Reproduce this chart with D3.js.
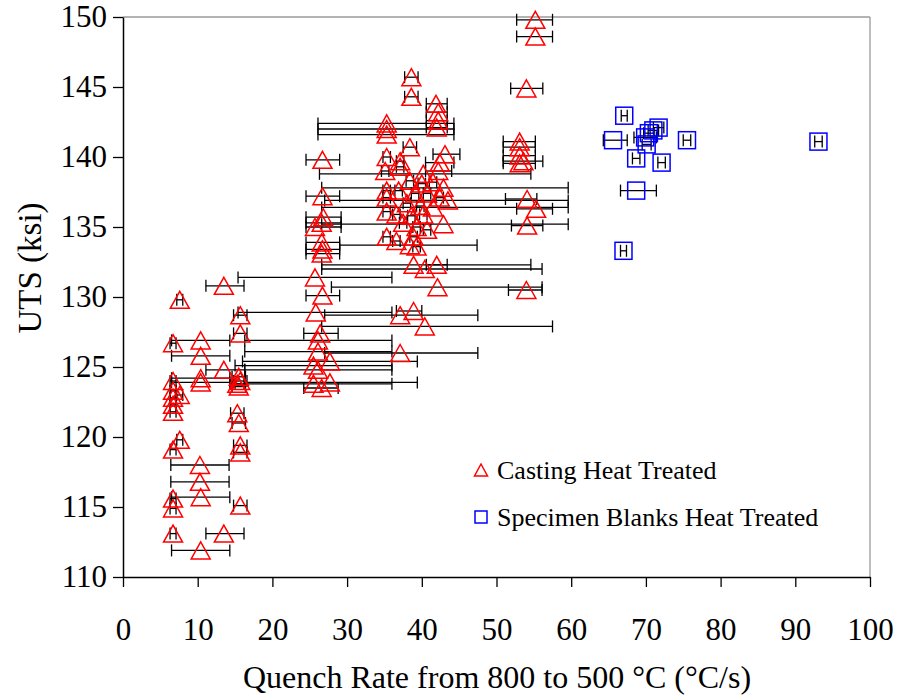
<!DOCTYPE html>
<html lang="en">
	<head>
		<meta charset="UTF-8" />
		<title>UTS vs Quench Rate</title>
		<script src="https://d3js.org/d3.v7.min.js"></script>
		<style>
			body { margin: 0; background: #fff; }
			svg text { font-family: "Liberation Serif", "Times New Roman", serif; }
		</style>
	</head>
	<body></body>

	<script>
		// Casting heat treated: quench rate, UTS, error bar min / max
		var castX = [6.7, 6.7, 6.7, 6.7, 7.6, 6.7, 6.7, 6.7, 7.6, 6.7, 6.7, 6.7, 7.6,
			10.4, 10.4, 10.3, 10.3, 10.4, 10.4, 10.4, 10.4,
			13.5, 13.5, 13.5,
			15.7, 15.7, 15.7, 15.5, 15.3, 15.5, 15.3, 15.7, 15.5, 15.7, 15.7,
			25.5, 26.6, 27.7, 26.1, 25.5, 27.7, 26.1, 26.1, 26.4, 25.8, 26.7, 25.7, 26.6, 26.7, 26.6, 25.7, 26.6, 26.8, 26.7, 26.7,
			35.3, 35.3, 35.3, 35.3, 35.1, 35.3, 35.3, 35.3, 35.3,
			38.6, 38.6, 41.9, 42.2, 42.2, 42.0, 38.4, 43.1, 42.4, 37.1, 37.1, 40.2, 42.2, 38.4, 40.0, 41.5,
			42.9, 36.9, 39.1, 40.7, 42.4, 43.5, 38.0, 39.8, 41.5, 36.6, 38.6, 40.2, 42.9, 37.5, 39.3, 40.7,
			36.6, 38.9, 38.4, 39.3, 38.9, 40.4, 42.0, 42.1, 37.1, 38.9, 40.4, 37.1,
			55.2, 55.2, 54.0, 53.1, 53.1, 53.1, 53.6, 53.1, 54.1, 55.3, 54.1, 54.0];
		var castY = [113.1, 114.9, 115.6, 119.1, 119.8, 121.8, 122.3, 122.8, 123.0, 123.3, 124.0, 126.7, 129.8,
			111.9, 115.7, 116.8, 118.0, 123.9, 124.2, 125.8, 126.9,
			113.1, 124.8, 130.8,
			115.1, 118.9, 119.4, 121.0, 121.7, 123.6, 123.8, 124.0, 124.3, 127.4, 128.7,
			123.8, 123.5, 123.9, 124.8, 125.1, 125.4, 126.1, 126.9, 127.4, 128.9, 130.1, 131.4, 133.1, 133.4, 133.9, 135.0, 135.3, 135.7, 137.2, 139.8,
			142.4, 142.0, 141.6, 140.0, 139.0, 137.6, 137.1, 136.1, 134.3,
			145.7, 144.3, 143.8, 143.2, 142.6, 142.1, 140.7, 140.2, 139.6, 139.7, 139.3, 138.8, 139.0, 138.3, 138.1, 138.2,
			137.8, 137.6, 137.4, 137.4, 137.1, 136.9, 136.7, 136.5, 136.4, 135.9, 135.8, 135.9, 135.2, 135.3, 135.0, 134.8,
			134.0, 134.3, 133.7, 133.6, 132.3, 132.0, 132.3, 130.7, 128.7, 129.0, 127.9, 126.0,
			149.8, 148.6, 144.9, 141.1, 140.7, 140.1, 139.7, 139.55, 137.0, 136.3, 135.1, 130.5];
		var castLo = [6.3, 6.3, 6.3, 6.3, 7.2, 6.3, 6.3, 6.3, 7.2, 6.3, 6.3, 6.3, 7.2,
			6.5, 6.5, 6.4, 6.4, 6.5, 6.5, 6.5, 6.5,
			11.1, 11.1, 11.1,
			14.8, 14.8, 14.8, 14.6, 14.4, 14.6, 14.4, 14.8, 14.6, 14.8, 14.8,
			15.0, 24.2, 16.3, 16.3, 15.0, 16.0, 16.3, 16.3, 24.2, 15.4, 24.5, 15.4, 24.5, 24.5, 24.5, 24.5, 24.5, 24.5, 24.5, 24.5,
			26.1, 26.1, 26.1, 34.8, 34.6, 34.8, 34.8, 34.8, 34.8,
			37.7, 37.7, 40.6, 40.6, 40.6, 40.6, 37.5, 41.5, 40.5, 36.6, 36.6, 26.3, 40.5, 37.9, 39.5, 41.0,
			26.6, 36.4, 38.6, 40.2, 41.9, 27.0, 37.5, 39.3, 26.6, 36.1, 38.1, 39.7, 26.6, 37.0, 38.8, 40.2,
			36.1, 38.4, 29.0, 38.8, 26.6, 26.6, 40.6, 27.9, 27.0, 36.6, 26.6, 27.0,
			52.7, 52.7, 51.9, 50.9, 50.9, 50.9, 50.9, 50.9, 51.2, 52.7, 52.0, 51.6];
		var castHi = [7.1, 7.1, 7.1, 7.1, 8.0, 7.1, 7.1, 7.1, 8.0, 7.1, 7.1, 7.1, 8.0,
			14.3, 14.3, 14.2, 14.2, 14.3, 14.3, 14.3, 14.3,
			16.2, 16.3, 16.2,
			16.6, 16.6, 16.6, 16.4, 16.2, 16.4, 16.2, 16.6, 16.4, 16.6, 16.6,
			36.0, 28.8, 39.4, 36.0, 36.0, 39.4, 36.0, 36.0, 28.8, 36.0, 29.0, 36.0, 29.0, 29.0, 29.0, 29.2, 29.2, 29.2, 29.0, 29.0,
			44.3, 44.3, 44.3, 35.8, 35.6, 35.8, 35.8, 35.8, 35.8,
			39.5, 39.5, 43.4, 43.4, 43.4, 43.4, 39.3, 45.1, 44.3, 37.6, 37.6, 54.6, 44.0, 38.9, 40.5, 42.0,
			59.6, 37.4, 39.6, 41.2, 42.9, 59.6, 38.5, 40.3, 59.6, 37.1, 39.1, 40.7, 59.6, 38.0, 39.8, 41.2,
			37.1, 39.4, 47.4, 39.8, 54.6, 56.1, 43.4, 56.1, 47.5, 40.0, 57.5, 47.5,
			57.5, 57.5, 56.2, 55.2, 55.2, 55.2, 56.2, 55.2, 55.4, 57.5, 56.2, 56.1];

		// Specimen blanks heat treated
		var blankX = [67.1, 65.6, 75.5, 93.1, 71.7, 71.0, 70.4, 69.9, 70.1, 68.7, 72.1, 68.7, 67.0];
		var blankY = [142.95, 141.2, 141.2, 141.1, 142.1, 141.9, 141.7, 141.4, 140.9, 139.9, 139.6, 137.6, 133.3];
		var blankLo = [66.7, 64.3, 75.0, 92.6, 71.0, 70.3, 69.7, 68.4, 69.5, 68.2, 71.6, 66.6, 66.6];
		var blankHi = [67.5, 67.5, 76.0, 93.6, 72.4, 71.7, 71.1, 71.4, 70.7, 69.2, 72.6, 71.4, 67.4];

		var xTicks = [0, 10, 20, 30, 40, 50, 60, 70, 80, 90, 100];
		var yTicks = [110, 115, 120, 125, 130, 135, 140, 145, 150];
		var legendLabels = ["Casting Heat Treated", "Specimen Blanks Heat Treated"];

		var W = 897, H = 696;
		var margin = { top: 17, right: 27, bottom: 119, left: 123 };
		var width = W - margin.left - margin.right,
			height = H - margin.top - margin.bottom;

		var xScale = d3.scaleLinear().domain([0, 100]).range([0, width]);
		var yScale = d3.scaleLinear().domain([110, 150]).range([height, 0]);

		var svg = d3.select("body")
			.append("svg")
			.attr("width", W)
			.attr("height", H)
			.append("g")
			.attr("transform", "translate(" + margin.left + "," + margin.top + ")");

		// grey frame on top and right
		svg.append("line")
			.attr("x1", 0).attr("x2", width).attr("y1", 0).attr("y2", 0)
			.attr("stroke", "#9a9a9a").attr("stroke-width", 1.3);
		svg.append("line")
			.attr("x1", width).attr("x2", width).attr("y1", 0).attr("y2", height)
			.attr("stroke", "#9a9a9a").attr("stroke-width", 1.3);

		var xAxis = d3.axisBottom(xScale).tickValues(xTicks).tickSize(10).tickSizeOuter(0).tickPadding(31);
		var gx = svg.append("g")
			.attr("transform", "translate(0," + height + ")")
			.call(xAxis);

		var yAxis = d3.axisLeft(yScale).tickValues(yTicks).tickSize(10).tickSizeOuter(0).tickPadding(6);
		var gy = svg.append("g").call(yAxis);

		[gx, gy].forEach(function (g) {
			g.select(".domain").attr("stroke", "#000").attr("stroke-width", 1.5);
			g.selectAll(".tick line").attr("stroke", "#000").attr("stroke-width", 1.3);
			g.selectAll(".tick text")
				.attr("fill", "#000")
				.attr("font-size", 31)
				.attr("font-family", "Liberation Serif, Times New Roman, serif");
		});

		function errorBars(xs, ys, lo, hi) {
			var g = svg.append("g").attr("stroke", "#000").attr("stroke-width", 1.3);
			var idx = d3.range(xs.length);
			g.selectAll(null).data(idx).enter().append("line")
				.attr("x1", i => xScale(lo[i])).attr("x2", i => xScale(hi[i]))
				.attr("y1", i => yScale(ys[i])).attr("y2", i => yScale(ys[i]));
			g.selectAll(null).data(idx).enter().append("line")
				.attr("x1", i => xScale(lo[i])).attr("x2", i => xScale(lo[i]))
				.attr("y1", i => yScale(ys[i]) - 6).attr("y2", i => yScale(ys[i]) + 6);
			g.selectAll(null).data(idx).enter().append("line")
				.attr("x1", i => xScale(hi[i])).attr("x2", i => xScale(hi[i]))
				.attr("y1", i => yScale(ys[i]) - 6).attr("y2", i => yScale(ys[i]) + 6);
		}

		errorBars(castX, castY, castLo, castHi);
		errorBars(blankX, blankY, blankLo, blankHi);

		function triPath(w, h) {
			return "M0," + (-h / 2) + "L" + (w / 2) + "," + (h / 2) + "L" + (-w / 2) + "," + (h / 2) + "Z";
		}

		svg.append("g").selectAll("path")
			.data(d3.range(castX.length))
			.enter()
			.append("path")
			.attr("d", triPath(19, 17))
			.attr("transform", i => "translate(" + xScale(castX[i]) + "," + yScale(castY[i]) + ")")
			.attr("fill", "none")
			.attr("stroke", "#ff0000")
			.attr("stroke-width", 1.5);

		svg.append("g").selectAll("rect")
			.data(d3.range(blankX.length))
			.enter()
			.append("rect")
			.attr("x", i => xScale(blankX[i]) - 8.5)
			.attr("y", i => yScale(blankY[i]) - 8.5)
			.attr("width", 17)
			.attr("height", 17)
			.attr("fill", "none")
			.attr("stroke", "#0000ff")
			.attr("stroke-width", 1.5);

		// legend
		var root = d3.select("body svg");
		var leg = root.append("g").attr("transform", "translate(481,470)");
		leg.append("path")
			.attr("d", triPath(13, 12))
			.attr("fill", "none").attr("stroke", "#ff0000").attr("stroke-width", 1.5);
		leg.append("text")
			.attr("x", 16).attr("y", 9)
			.attr("font-size", 26)
			.text(legendLabels[0]);
		leg.append("rect")
			.attr("x", -6).attr("y", 41).attr("width", 12).attr("height", 12)
			.attr("fill", "none").attr("stroke", "#0000ff").attr("stroke-width", 1.5);
		leg.append("text")
			.attr("x", 16).attr("y", 56)
			.attr("font-size", 26)
			.text(legendLabels[1]);

		// axis titles
		root.append("text")
			.attr("transform", "translate(41,268) rotate(-90)")
			.attr("text-anchor", "middle")
			.attr("font-size", 33)
			.text("UTS (ksi)");

		root.append("text")
			.attr("x", 497)
			.attr("y", 688)
			.attr("text-anchor", "middle")
			.attr("font-size", 32)
			.text("Quench Rate from 800 to 500 °C (°C/s)");
	</script>
</html>
